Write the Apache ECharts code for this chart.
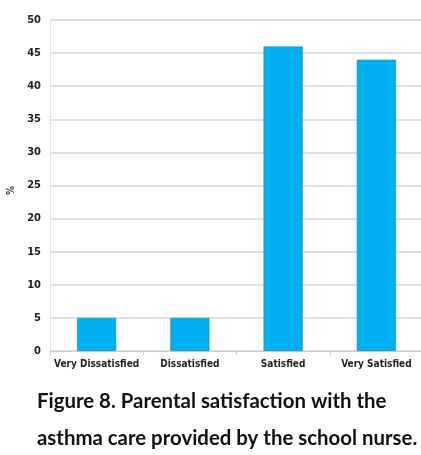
<!DOCTYPE html>
<html>
<head>
<meta charset="utf-8">
<script src="https://cdn.jsdelivr.net/npm/echarts@6/dist/echarts.min.js"></script>
<style>
  html, body { margin: 0; padding: 0; background: #fff; }
  #chart { width: 421px; height: 455px; }
</style>
</head>
<body>
<div id="chart"></div>
<script>
// Parental satisfaction ratings (percent of respondents)
const categories = ['Very Dissatisfied', 'Dissatisfied', 'Satisfied', 'Very Satisfied'];
const percentValues = [5, 5, 46, 44];
const yTicks = [0, 5, 10, 15, 20, 25, 30, 35, 40, 45, 50];
const captionLines = [
  'Figure 8. Parental satisfaction with the',
  'asthma care provided by the school nurse.'
];

const narrow = '"DejaVu Sans Condensed", "Liberation Sans Narrow", "Roboto Condensed", sans-serif';

const chart = echarts.init(document.getElementById('chart'), null, { renderer: 'canvas' });

chart.setOption({
  animation: false,
  backgroundColor: '#ffffff',
  grid: { left: 50, right: -2, top: 20, bottom: 104, containLabel: false, outerBoundsMode: 'none' },
  xAxis: {
    type: 'category',
    data: categories,
    axisLine: { lineStyle: { color: '#d0d0d0', width: 1 } },
    axisTick: { show: true, length: 4, lineStyle: { color: '#d0d0d0' } },
    axisLabel: {
      color: '#222',
      fontFamily: narrow,
      fontWeight: 'bold',
      fontSize: 10,
      margin: 8,
      interval: 0
    }
  },
  yAxis: {
    type: 'value',
    min: yTicks[0],
    max: yTicks[yTicks.length - 1],
    interval: yTicks[1] - yTicks[0],
    name: '%',
    nameLocation: 'middle',
    nameGap: 32,
    nameRotate: 90,
    nameTextStyle: { color: '#333', fontFamily: narrow, fontWeight: 'bold', fontSize: 10, padding: [0, 10, 0, 0] },
    axisLine: { show: true, lineStyle: { color: '#e2e2e2' } },
    axisTick: { show: false },
    splitLine: { lineStyle: { color: '#d6d6d6', width: 1.5 } },
    axisLabel: {
      color: '#222',
      fontFamily: narrow,
      fontWeight: 'bold',
      fontSize: 11,
      margin: 9
    }
  },
  series: [{
    type: 'bar',
    data: percentValues,
    barWidth: '42%',
    itemStyle: { color: '#00b0f0', borderColor: '#2a86a8', borderWidth: 0.6 }
  }],
  graphic: captionLines.map((line, i) => ({
    type: 'text',
    left: 37,
    top: 391 + i * 37,
    style: {
      text: line,
      fill: '#111',
      font: 'bold 20.4px Lato, "Open Sans", sans-serif'
    }
  }))
});
</script>
</body>
</html>
